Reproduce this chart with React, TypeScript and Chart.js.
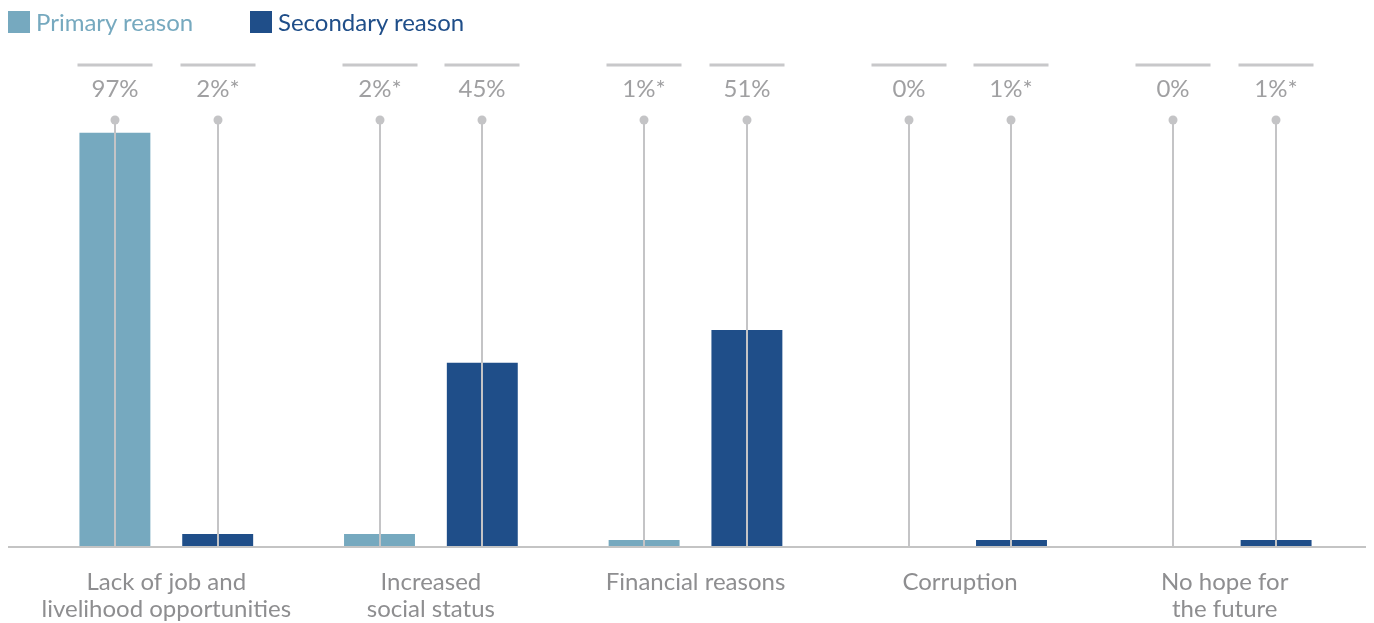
import React, { useEffect, useRef } from "react";
import { Chart, registerables } from "chart.js";

Chart.register(...registerables);

const categories: string[][] = [
  ["Lack of job and", "livelihood opportunities"],
  ["Increased", "social status"],
  ["Financial reasons"],
  ["Corruption"],
  ["No hope for", "the future"],
];
const primaryValues = [97, 2.8, 1.4, 0, 0];
const secondaryValues = [2.8, 43, 50.7, 1.4, 1.4];
const primaryLabels = ["97%", "2%*", "1%*", "0%", "0%"];
const secondaryLabels = ["2%*", "45%", "51%", "1%*", "1%*"];

const PRIMARY = "#76A9BF";
const SECONDARY = "#1F4E89";
const FONT = "Lato, 'Open Sans', sans-serif";

const overlayPlugin = {
  id: "overlay",
  beforeDatasetsDraw(chart: any) {
    const ctx = chart.ctx;
    const y = chart.scales.y;
    const base = y.getPixelForValue(0);
    ctx.save();
    ctx.strokeStyle = "#C4C4C4";
    ctx.lineWidth = 2;
    ctx.beginPath();
    ctx.moveTo(0, base + 1);
    ctx.lineTo(chart.width, base + 1);
    ctx.stroke();
    ctx.restore();
  },
  afterDatasetsDraw(chart: any) {
    const ctx = chart.ctx;
    const y = chart.scales.y;
    const top = y.getPixelForValue(100);
    const base = y.getPixelForValue(0);
    const labelSets = [primaryLabels, secondaryLabels];
    ctx.save();
    chart.data.datasets.forEach((_: any, di: number) => {
      const meta = chart.getDatasetMeta(di);
      meta.data.forEach((el: any, i: number) => {
        const x = Math.round(el.x);
        ctx.strokeStyle = "#C4C4C6";
        ctx.lineWidth = 2;
        ctx.beginPath();
        ctx.moveTo(x, top);
        ctx.lineTo(x, base);
        ctx.stroke();
        ctx.fillStyle = "#C4C4C6";
        ctx.beginPath();
        ctx.arc(x, top, 4.5, 0, Math.PI * 2);
        ctx.fill();
        ctx.strokeStyle = "#C8C8CA";
        ctx.lineWidth = 3;
        ctx.beginPath();
        ctx.moveTo(x - 37.5, top - 55);
        ctx.lineTo(x + 37.5, top - 55);
        ctx.stroke();
        ctx.fillStyle = "#A0A0A2";
        ctx.font = `24px ${FONT}`;
        ctx.textAlign = "center";
        ctx.textBaseline = "middle";
        ctx.fillText(labelSets[di][i], x, top - 31);
      });
    });
    ctx.restore();
  },
};

export default function App() {
  const ref = useRef<HTMLCanvasElement>(null);
  useEffect(() => {
    document.documentElement.style.overflow = "hidden";
    const chart = new Chart(ref.current!, {
      type: "bar",
      data: {
        labels: categories,
        datasets: [
          {
            label: "Primary reason",
            data: primaryValues,
            backgroundColor: PRIMARY,
            categoryPercentage: 0.777,
            barPercentage: 0.69,
          },
          {
            label: "Secondary reason",
            data: secondaryValues,
            backgroundColor: SECONDARY,
            categoryPercentage: 0.777,
            barPercentage: 0.69,
          },
        ],
      },
      options: {
        animation: false,
        responsive: true,
        maintainAspectRatio: false,
        layout: { padding: { left: 26, right: 9, top: 112, bottom: 0 } },
        plugins: {
          legend: { display: false },
          tooltip: { enabled: false },
        },
        scales: {
          x: {
            grid: { display: false, drawTicks: false },
            border: { display: false },
            afterFit(scale: any) {
              scale.height = 77;
            },
            ticks: {
              padding: 22,
              color: "#8E8E90",
              font: { family: FONT, size: 24, lineHeight: 1.15 },
              maxRotation: 0,
              autoSkip: false,
            },
          },
          y: {
            display: false,
            min: 0,
            max: 100,
          },
        },
      },
      plugins: [overlayPlugin],
    });
    return () => chart.destroy();
  }, []);

  const legendItem = (color: string, text: string, left: number) => (
    <div
      style={{
        position: "absolute",
        left,
        top: 0,
        display: "flex",
        alignItems: "center",
        fontFamily: FONT,
        fontSize: 24,
        lineHeight: "28px",
        color,
        whiteSpace: "nowrap",
      }}
    >
      <span
        style={{
          display: "inline-block",
          width: 22,
          height: 22,
          background: color,
          marginRight: 6,
        }}
      />
      {text}
    </div>
  );

  return (
    <div style={{ position: "relative", width: "100%", height: 615 }}>
      {legendItem(PRIMARY, "Primary reason", 0)}
      {legendItem(SECONDARY, "Secondary reason", 242)}
      <canvas ref={ref} />
    </div>
  );
}
